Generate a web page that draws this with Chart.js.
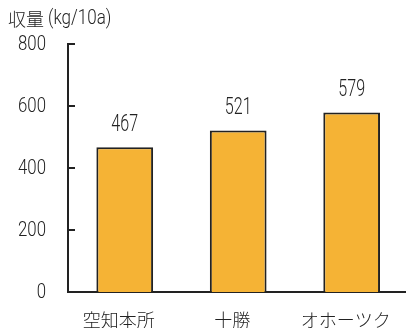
<!DOCTYPE html>
<html>
<head>
<meta charset="utf-8">
<script src="https://cdn.jsdelivr.net/npm/chart.js@4"></script>
<style>
  html, body { margin: 0; padding: 0; background: #fff; overflow: hidden; }
  #wrap { width: 414px; height: 328px; }
</style>
</head>
<body>
<div id="wrap"><canvas id="myChart" width="414" height="328"></canvas></div>
<script>
const regions = ['空知本所', '十勝', 'オホーツク'];
const yields = [467, 521, 579];
const yTicks = [0, 200, 400, 600, 800];
const unitJa = '収量';
const unitEn = '(kg/10a)';

const latin = "Roboto, sans-serif";
const cjk = "'Noto Sans CJK JP', sans-serif";
const ink = '#222';

// narrow digits: the original uses a condensed face
function drawNarrow(ctx, text, x, y, size, sx, align) {
    ctx.save();
    ctx.font = '300 ' + size + 'px ' + latin;
    ctx.textAlign = align;
    ctx.textBaseline = 'middle';
    ctx.translate(x, y);
    ctx.scale(sx, 1);
    ctx.fillText(text, 0, 0);
    ctx.restore();
}

const extras = {
    id: 'extras',
    afterDraw(chart) {
        const ctx = chart.ctx;
        const x = chart.scales.x;
        const y = chart.scales.y;
        ctx.save();
        ctx.fillStyle = ink;

        // unit title
        ctx.font = '300 18px ' + cjk;
        ctx.textAlign = 'left';
        ctx.textBaseline = 'middle';
        ctx.fillText(unitJa, 8, 19);
        drawNarrow(ctx, unitEn, 48, 19, 20, 0.85, 'left');

        // y labels and inward ticks
        ctx.strokeStyle = ink;
        ctx.lineWidth = 2;
        yTicks.forEach(v => {
            const py = Math.round(y.getPixelForValue(v));
            drawNarrow(ctx, String(v), 46, py + 1, 21, 0.8, 'right');
            if (v === 0) return;
            ctx.beginPath();
            ctx.moveTo(x.left, py);
            ctx.lineTo(x.left + 7, py);
            ctx.stroke();
        });

        // value labels
        chart.getDatasetMeta(0).data.forEach((bar, i) => {
            drawNarrow(ctx, String(yields[i]), bar.x, bar.y - 22, 23, 0.7, 'center');
        });
        ctx.restore();
    }
};

let config = {
    type: 'bar',
    data: {
        labels: regions,
        datasets: [{
            data: yields,
            backgroundColor: '#f5b335',
            borderColor: ink,
            borderWidth: 2,
            barPercentage: 0.5,
            categoryPercentage: 1
        }]
    },
    options: {
        responsive: false,
        animation: false,
        layout: { padding: { top: 44, left: 0, right: 2, bottom: 0 } },
        plugins: { legend: { display: false }, tooltip: { enabled: false } },
        scales: {
            x: {
                grid: { display: false, drawTicks: false },
                border: { color: ink, width: 2 },
                ticks: { color: ink, padding: 17, labelOffset: -6, font: { family: cjk, size: 18, weight: 300 } },
                afterFit(scale) { scale.height = 36; }
            },
            y: {
                min: 0,
                max: 800,
                afterBuildTicks(scale) { scale.ticks = yTicks.map(v => ({ value: v })); },
                grid: { display: false, drawTicks: false },
                border: { color: ink, width: 2 },
                ticks: { display: false },
                afterFit(scale) { scale.width = 68; }
            }
        }
    },
    plugins: [extras]
};

let myChart = new Chart(document.getElementById('myChart'), config);
</script>
</body>
</html>
